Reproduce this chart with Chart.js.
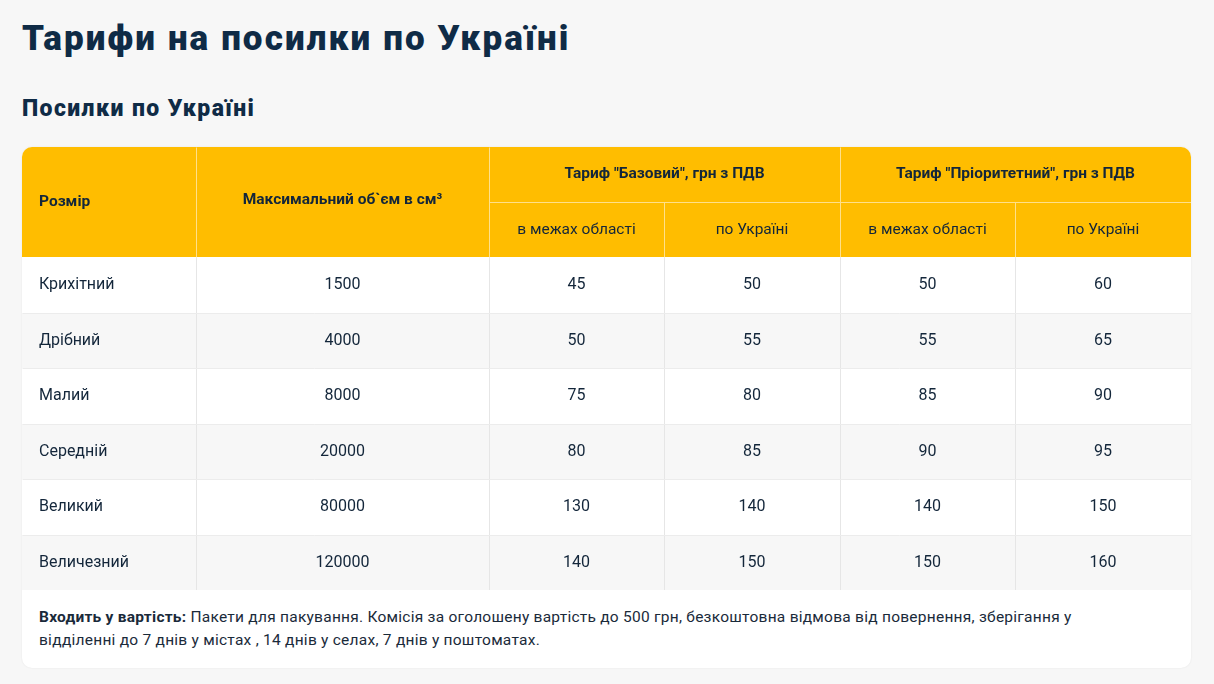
<!DOCTYPE html>
<html>
<head>
<meta charset="utf-8">
<script src="https://cdn.jsdelivr.net/npm/chart.js@4.4.0/dist/chart.umd.min.js"></script>
<style>
body{margin:0;background:#f7f7f7;font-family:Roboto,sans-serif;color:#0f2b46;width:1214px;height:684px;overflow:hidden;position:relative}
h1{position:absolute;left:22px;top:18px;margin:0;font-size:35px;font-weight:900;letter-spacing:2.1px}
h2{position:absolute;left:22px;top:95px;margin:0;font-size:23px;font-weight:900;letter-spacing:1.4px}
#card{position:absolute;left:22px;top:147px;width:1169px;height:521px;background:#fff;border-radius:10px;overflow:hidden;box-shadow:0 0 2px rgba(0,0,0,.08)}
#wrap{position:absolute;left:0;top:0;width:1169px;height:443px}
#note{position:absolute;left:17px;top:459px;width:1100px;font-size:15.5px;line-height:23px;color:#1a2a3a;letter-spacing:0.25px}
</style>
</head>
<body>
<h1>Тарифи на посилки по Україні</h1>
<h2>Посилки по Україні</h2>
<div id="card">
  <div id="wrap"><canvas id="tbl"></canvas></div>
  <div id="note"><b>Входить у вартість:</b> Пакети для пакування. Комісія за оголошену вартість до 500 грн, безкоштовна відмова від повернення, зберігання у відділенні до 7 днів у містах , 14 днів у селах, 7 днів у поштоматах.</div>
</div>
<script>
// data
var sizes = ["Крихітний","Дрібний","Малий","Середній","Великий","Величезний"];
var volume = [1500,4000,8000,20000,80000,120000];
var baseRegion = [45,50,75,80,130,140];
var baseUkraine = [50,55,80,85,140,150];
var prioRegion = [50,55,85,90,140,150];
var prioUkraine = [60,65,90,95,150,160];
var groupLabels = ['Тариф "Базовий", грн з ПДВ','Тариф "Пріоритетний", грн з ПДВ'];
var subLabels = ["в межах області","по Україні","в межах області","по Україні"];

// column edges / row edges in table units
var colEdges = [0,174,467,642,818,993,1169];
var rowEdges = [0,55,110,166,221,277,332,388,443];

var tablePlugin = {
  id:'tablePlugin',
  afterDraw: function(chart){
    var c = chart.ctx, x = chart.scales.x, y = chart.scales.y;
    function X(v){return x.getPixelForValue(v);}
    function Y(v){return y.getPixelForValue(v);}
    c.save();
    // header
    c.fillStyle = '#ffbd00';
    c.fillRect(X(0),Y(0),X(1169)-X(0),Y(110)-Y(0));
    // body rows
    for (var r=0;r<sizes.length;r++){
      c.fillStyle = r%2 ? '#f7f7f7' : '#ffffff';
      c.fillRect(X(0),Y(rowEdges[r+2]),X(1169)-X(0),Y(rowEdges[r+3])-Y(rowEdges[r+2]));
    }
    c.lineWidth = 1;
    function line(x1,y1,x2,y2,col){c.strokeStyle=col;c.beginPath();c.moveTo(Math.round(X(x1))+0.5,Math.round(Y(y1))+0.5);c.lineTo(Math.round(X(x2))+0.5,Math.round(Y(y2))+0.5);c.stroke();}
    for (var i=1;i<colEdges.length-1;i++){
      var top = (i==3||i==5) ? 55 : 0;
      line(colEdges[i],top,colEdges[i],110,'#ffe08a');
      line(colEdges[i],110,colEdges[i],443,'#e6e6e6');
    }
    line(467,55,1169,55,'#ffe08a');
    for (var r=3;r<rowEdges.length;r++) line(0,rowEdges[r],1169,rowEdges[r],'#ececec');
    line(0,443,1169,443,'#ececec');
    // header text
    c.fillStyle = '#13263a'; c.textBaseline='middle';
    c.font = 'bold 15.5px Roboto';
    c.textAlign='left'; c.fillText('Розмір',X(17),Y(55));
    c.textAlign='center';
    c.fillText('Максимальний об`єм в см³',(X(174)+X(467))/2,Y(53));
    c.fillText(groupLabels[0],(X(467)+X(818))/2,Y(27));
    c.fillText(groupLabels[1],(X(818)+X(1169))/2,Y(27));
    c.font = '15.5px Roboto';
    for (var i=0;i<4;i++) c.fillText(subLabels[i],(X(colEdges[i+2])+X(colEdges[i+3]))/2,Y(83));
    // body text
    c.font = '16px Roboto';
    var cols = [volume,baseRegion,baseUkraine,prioRegion,prioUkraine];
    for (var r=0;r<sizes.length;r++){
      var cy = (Y(rowEdges[r+2])+Y(rowEdges[r+3]))/2;
      c.textAlign='left'; c.fillText(sizes[r],X(17),cy);
      c.textAlign='center';
      for (var k=0;k<cols.length;k++) c.fillText(String(cols[k][r]),(X(colEdges[k+1])+X(colEdges[k+2]))/2,cy);
    }
    c.restore();
  }
};

new Chart(document.getElementById('tbl'), {
  type:'scatter',
  data:{datasets:[{data:[]}]},
  options:{
    responsive:true, maintainAspectRatio:false, animation:false,
    layout:{padding:0},
    plugins:{legend:{display:false},tooltip:{enabled:false}},
    scales:{
      x:{type:'linear',min:0,max:1169,display:false},
      y:{type:'linear',min:0,max:443,reverse:true,display:false}
    }
  },
  plugins:[tablePlugin]
});
</script>
</body>
</html>
